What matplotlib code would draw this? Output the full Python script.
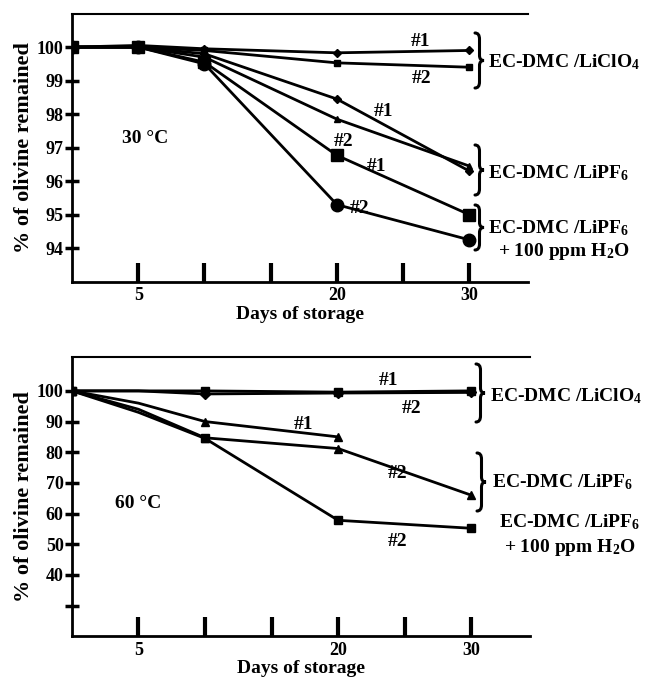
import matplotlib.pyplot as plt
from matplotlib.path import Path
from matplotlib.patches import PathPatch

plt.rcParams['font.family'] = ['Liberation Serif', 'DejaVu Serif']
plt.rcParams['font.weight'] = 'bold'
plt.rcParams['mathtext.fontset'] = 'custom'
plt.rcParams['mathtext.rm'] = 'Liberation Serif:bold'
plt.rcParams['mathtext.bf'] = 'Liberation Serif:bold'
plt.rcParams['mathtext.default'] = 'bf'

days = [0, 5, 10, 20, 30]
days_short = [0, 5, 10, 20]

# 30 C
c30_clo4_1 = [100, 100.05, 99.95, 99.83, 99.9]
c30_clo4_2 = [100, 100.0, 99.9, 99.53, 99.4]
c30_pf6_1 = [100, 100.0, 99.8, 98.45, 96.3]
c30_pf6_2 = [100, 100.0, 99.7, 97.85, 96.45]
c30_h2o_1 = [100, 100.0, 99.55, 96.77, 95.0]
c30_h2o_2 = [100, 100.0, 99.5, 95.3, 94.25]

# 60 C
c60_clo4_1 = [100, 100, 99.0, 99.3, 99.5]
c60_clo4_2 = [100, 100, 100, 99.6, 100]
c60_pf6_1 = [100, 96, 90, 85]
c60_pf6_2 = [100, 94, 84.7, 81.2, 66]
c60_h2o_2 = [100, 93, 84.5, 57.8, 55.2]

xtick_pos = [5, 10, 15, 20, 25, 30]
xtick_lab = ['5', '', '', '20', '', '30']

W, H = 654.0, 679.0
fig = plt.figure(figsize=(6.54, 6.79), dpi=100)
ax1 = fig.add_axes([0.110, 0.585, 0.697, 0.395])
ax2 = fig.add_axes([0.110, 0.063, 0.700, 0.411])

lw = 2
ax1.plot(days, c30_clo4_1, 'k-', lw=lw, marker='D', ms=4)
ax1.plot(days, c30_clo4_2, 'k-', lw=lw, marker='s', ms=5)
ax1.plot(days, c30_pf6_1, 'k-', lw=lw, marker='D', ms=4)
ax1.plot(days, c30_pf6_2, 'k-', lw=lw, marker='^', ms=5)
ax1.plot(days, c30_h2o_1, 'k-', lw=lw, marker='s', ms=8)
ax1.plot(days, c30_h2o_2, 'k-', lw=lw, marker='o', ms=9)

mk = [0, 2, 3, 4]
ax2.plot(days, c60_clo4_1, 'k-', lw=lw, marker='D', ms=5, markevery=mk)
ax2.plot(days, c60_clo4_2, 'k-', lw=lw, marker='s', ms=6, markevery=mk)
ax2.plot(days_short, c60_pf6_1, 'k-', lw=lw, marker='^', ms=6, markevery=[0, 2, 3])
ax2.plot(days, c60_pf6_2, 'k-', lw=lw, marker='^', ms=6, markevery=mk)
ax2.plot(days, c60_h2o_2, 'k-', lw=lw, marker='s', ms=6, markevery=mk)

for ax in (ax1, ax2):
    ax.set_xlim(0, 34.4)
    ax.set_xticks(xtick_pos)
    ax.set_xticklabels(xtick_lab)
    ax.tick_params(axis='x', direction='in', length=14, width=3, labelsize=13, pad=4)
    ax.tick_params(axis='y', direction='inout', length=10, width=2.5, labelsize=13, pad=1)
    ax.spines['right'].set_visible(False)
    ax.spines['left'].set_linewidth(2)
    ax.spines['bottom'].set_linewidth(2)
    ax.spines['top'].set_linewidth(1.5)
    ax.set_xlabel('Days of storage', fontsize=14, fontweight='bold', labelpad=1)
    ax.set_ylabel('% of olivine remained', fontsize=16, fontweight='bold', labelpad=2)

ax1.set_ylim(93, 101)
ax1.set_yticks([94, 95, 96, 97, 98, 99, 100])
ax2.set_ylim(20, 111)
ax2.set_yticks([30, 40, 50, 60, 70, 80, 90, 100])
ax2.set_yticklabels(['', '40', '50', '60', '70', '80', '90', '100'])

ts = 14
kw = dict(fontsize=ts, fontweight='bold', ha='center', va='center', clip_on=False)
# 30 C labels
ax1.text(5.5, 97.28, '30 °C', **kw)
ax1.text(26.3, 100.16, '#1', **kw)
ax1.text(26.4, 99.05, '#2', **kw)
ax1.text(23.5, 98.08, '#1', **kw)
ax1.text(20.5, 97.18, '#2', **kw)
ax1.text(23.0, 96.44, '#1', **kw)
ax1.text(21.7, 95.18, '#2', **kw)

# 60 C labels
ax2.text(5.0, 63.3, '60 °C', **kw)
ax2.text(23.8, 103.3, '#1', **kw)
ax2.text(25.5, 94.1, '#2', **kw)
ax2.text(17.4, 89.2, '#1', **kw)
ax2.text(24.5, 73.2, '#2', **kw)
ax2.text(24.5, 50.9, '#2', **kw)


def px(x, y):
    return (x / W, 1 - y / H)


def brace(x0, y0, y1, w=9):
    # right-pointing curly brace, pixel coords from top-left
    ym = (y0 + y1) / 2.0
    xm = x0 + w * 0.5
    x1 = x0 + w
    pts = [(x0, y0), (xm, y0), (xm, y0 + 6),
           (xm, ym - 5),
           (xm, ym), (x1, ym),
           (xm, ym), (xm, ym + 5),
           (xm, y1 - 6),
           (xm, y1), (x0, y1)]
    codes = [Path.MOVETO, Path.CURVE3, Path.CURVE3,
             Path.LINETO,
             Path.CURVE3, Path.CURVE3,
             Path.CURVE3, Path.CURVE3,
             Path.LINETO,
             Path.CURVE3, Path.CURVE3]
    verts = [px(x, y) for x, y in pts]
    fig.patches.append(PathPatch(Path(verts, codes), transform=fig.transFigure,
                                 fill=False, lw=2.2, ec='k', capstyle='round'))


lkw = dict(fontsize=14, fontweight='bold', ha='left', va='center')
ckw = dict(fontsize=14, fontweight='bold', ha='center', va='center')

brace(475, 33, 88)
fig.text(*px(488, 62), 'EC-DMC /LiClO$_4$', **lkw)
brace(475, 145, 195)
fig.text(*px(488, 173), 'EC-DMC /LiPF$_6$', **lkw)
brace(475, 205, 250)
fig.text(*px(488, 228), 'EC-DMC /LiPF$_6$', **lkw)
fig.text(*px(564, 252), '+ 100 ppm H$_2$O', **ckw)

brace(476, 364, 422)
fig.text(*px(490, 396), 'EC-DMC /LiClO$_4$', **lkw)
brace(477, 453, 511)
fig.text(*px(492, 482), 'EC-DMC /LiPF$_6$', **lkw)
fig.text(*px(570, 522), 'EC-DMC /LiPF$_6$', **ckw)
fig.text(*px(570, 547), '+ 100 ppm H$_2$O', **ckw)

fig.savefig('out.png', dpi=100)
